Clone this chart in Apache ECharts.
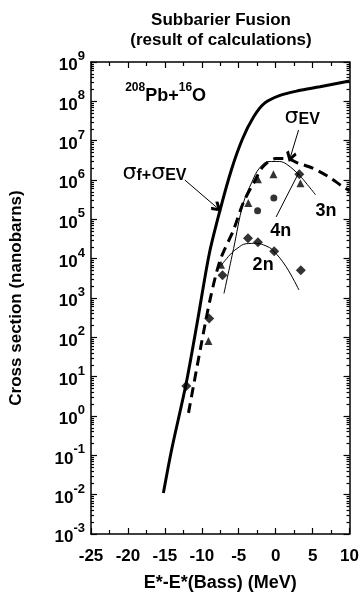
<!DOCTYPE html>
<html>
<head>
<meta charset="utf-8">
<script src="https://cdn.jsdelivr.net/npm/echarts@6/dist/echarts.min.js"></script>
<style>
html, body { margin: 0; padding: 0; background: #fff; }
#main { width: 362px; height: 597px; }
</style>
</head>
<body>
<div id="main"></div>
<script>
// curves (x = E*-E*(Bass) in MeV, y = cross section in nb)
var fusionX = [-15.2, -14.1, -12.1, -10.5, -9.0, -7.5, -6.0, -4.5, -3.0, -1.5, 0.5, 3.0, 6.0, 10.0];
var fusionY = [0.011, 0.135, 7, 320, 1.3e4, 1.8e5, 1.8e6, 1.1e7, 4e7, 9e7, 1.4e8, 1.85e8, 2.35e8, 3.3e8];

var evX = [-11.8, -10.2, -8.8, -7.5, -5.7, -4.4, -3.0, -1.7, 0.0, 1.5, 3.0, 5.0, 7.0, 9.0, 10.0];
var evY = [1.2, 50, 1.07e3, 9.3e3, 5.4e4, 2.6e5, 8.3e5, 2.2e6, 3.5e6, 3.5e6, 2.7e6, 2e6, 1.26e6, 7e5, 5.3e5];

var n3X = [-7.0, -5.7, -4.4, -3.2, -2.2, -0.9, 0.5, 1.5, 3.15, 4.3, 5.4];
var n3Y = [1.3e3, 1.8e4, 2.5e5, 9e5, 2e6, 2.95e6, 2.95e6, 2.5e6, 1.35e6, 7.6e5, 4.2e5];

var n2X = [-7.5, -6.2, -5.25, -4.0, -2.6, -1.3, -0.4, 1.4, 3.15];
var n2Y = [6.3e3, 1.25e4, 1.8e4, 2.4e4, 2.45e4, 2.1e4, 1.65e4, 6.3e3, 1.6e3];

// measured points
var diamondX = [-12.1, -9.0, -7.2, -3.75, -2.4, -0.2, 3.4, 3.2];
var diamondY = [5.8, 300, 3.8e3, 3.3e4, 2.6e4, 1.55e4, 5.1e3, 1.4e6];
var triangleX = [-9.1, -7.4, -3.7, -2.4, -0.3, 3.35];
var triangleY = [81, 7e3, 2.6e5, 1.05e6, 1.4e6, 8.3e5];
var circleX = [-2.45, -0.25];
var circleY = [1.65e5, 3.5e5];

var FONT = '"Liberation Sans", Arial, sans-serif';

function zip(xs, ys) {
    return xs.map(function (x, i) { return [x, ys[i]]; });
}

var minorLog = [];
for (var k = -3; k < 9; k++) {
    for (var m = 2; m <= 9; m++) minorLog.push(m * Math.pow(10, k));
}

var chart = echarts.init(document.getElementById('main'), null, { renderer: 'canvas' });

function logAxis(pos, major, withLabel) {
    var ax = {
        type: 'log', logBase: 10, min: 1e-3, max: 1e9, interval: 1,
        position: pos,
        axisLine: { show: major, onZero: false, lineStyle: { color: '#000', width: 1.5 } },
        axisTick: { show: true, inside: true, length: major ? 6 : 3, lineStyle: { color: '#000', width: 1.2 } },
        splitLine: { show: false },
        axisLabel: { show: false }
    };
    if (!major) ax.axisTick.customValues = minorLog;
    if (withLabel) {
        ax.axisLabel = {
            show: true, margin: 6,
            formatter: function (v) {
                var e = Math.round(Math.log10(v));
                return '{b|10}{s|' + e + '}';
            },
            rich: {
                b: { fontFamily: FONT, fontSize: 17, fontWeight: 'bold', color: '#000', lineHeight: 24, verticalAlign: 'bottom' },
                s: { fontFamily: FONT, fontSize: 13, fontWeight: 'bold', color: '#000', lineHeight: 13, verticalAlign: 'top' }
            }
        };
        ax.name = 'Cross section (nanobarns)';
        ax.nameLocation = 'middle';
        ax.nameGap = 66;
        ax.nameTextStyle = { fontFamily: FONT, fontSize: 17, fontWeight: 'bold', color: '#000' };
    }
    return ax;
}

function xAxisCfg(pos, withLabel) {
    var ax = {
        type: 'value', min: -25, max: 10, interval: 5, position: pos,
        axisLine: { show: true, onZero: false, lineStyle: { color: '#000', width: 1.5 } },
        axisTick: { show: true, inside: true, length: 6, lineStyle: { color: '#000', width: 1.2 } },
        minorTick: { show: true, splitNumber: 2, length: 4, lineStyle: { color: '#000', width: 1.2 } },
        splitLine: { show: false },
        axisLabel: { show: false }
    };
    if (withLabel) {
        ax.axisLabel = { show: true, margin: 14, fontFamily: FONT, fontSize: 17, fontWeight: 'bold', color: '#000' };
        ax.name = 'E*-E*(Bass) (MeV)';
        ax.nameLocation = 'middle';
        ax.nameGap = 40;
        ax.nameTextStyle = { fontFamily: FONT, fontSize: 18, fontWeight: 'bold', color: '#000' };
    }
    return ax;
}

var chevron = 'path://M5,0L10,8L8,10L5,5L2,10L0,8Z';

var option = {
    animation: false,
    backgroundColor: '#fff',
    title: {
        text: 'Subbarier Fusion\n(result of calculations)',
        left: 216, top: 5, textAlign: 'center',
        textStyle: { fontFamily: FONT, fontSize: 17, fontWeight: 'bold', color: '#000', lineHeight: 20 }
    },
    grid: { left: 90, right: 7, top: 62, bottom: 63 },
    xAxis: [xAxisCfg('bottom', true), xAxisCfg('top', false)],
    yAxis: [logAxis('left', true, true), logAxis('left', false, false), logAxis('right', true, false), logAxis('right', false, false)],
    series: [
        {
            name: 'fusion', type: 'line', data: zip(fusionX, fusionY), smooth: 0.3,
            showSymbol: false, lineStyle: { color: '#000', width: 3 },
            markLine: {
                silent: true, animation: false,
                label: { show: false },
                lineStyle: { color: '#000', width: 1, type: 'solid' },
                data: [
                    [{ coord: [-12.3, 1e6], symbol: 'none' }, { coord: [-7.9, 1.95e5], symbol: chevron, symbolSize: 11 }],
                    [{ coord: [3.1, 1.86e7], symbol: 'none' }, { coord: [2.0, 3.9e6], symbol: chevron, symbolSize: 11 }],
                    [{ coord: [0.06, 1.15e5], symbol: 'none' }, { coord: [3.1, 1.5e6], symbol: 'none' }]
                ]
            }
        },
        {
            name: 'ev', type: 'line', data: zip(evX, evY), smooth: 0.3,
            showSymbol: false, lineStyle: { color: '#000', width: 3, type: [10, 6] }
        },
        {
            name: '3n', type: 'line', data: zip(n3X, n3Y), smooth: 0.4,
            showSymbol: false, lineStyle: { color: '#000', width: 1 }
        },
        {
            name: '2n', type: 'line', data: zip(n2X, n2Y), smooth: 0.4,
            showSymbol: false, lineStyle: { color: '#000', width: 1 }
        },
        {
            name: 'diamonds', type: 'scatter', data: zip(diamondX, diamondY),
            symbol: 'diamond', symbolSize: 10, itemStyle: { color: '#000' }
        },
        {
            name: 'triangles', type: 'scatter', data: zip(triangleX, triangleY),
            symbol: 'triangle', symbolSize: 8, itemStyle: { color: '#000' }
        },
        {
            name: 'circles', type: 'scatter', data: zip(circleX, circleY),
            symbol: 'circle', symbolSize: 7, itemStyle: { color: '#000' }
        }
    ]
};
chart.setOption(option);

// text annotations, placed in data coordinates
var notes = [
    { text: '{sp|208}{t|Pb+}{sp|16}{t|O}', x: -14.9, y: 1.6e8 },
    { text: '{g|σ}{sb|f+}{g|σ}{sb|EV}', x: -16.4, y: 1.5e6 },
    { text: '{g|σ}{sb|EV}', x: 3.6, y: 4e7 },
    { text: '{t|3n}', x: 6.8, y: 1.95e5 },
    { text: '{t|4n}', x: 0.7, y: 6e4 },
    { text: '{t|2n}', x: -1.7, y: 8e3 }
];
var rich = {
    t: { fontFamily: FONT, fontSize: 18, fontWeight: 'bold', fill: '#000', lineHeight: 24, verticalAlign: 'bottom' },
    sp: { fontFamily: FONT, fontSize: 12, fontWeight: 'bold', fill: '#000', lineHeight: 12, verticalAlign: 'top' },
    g: { fontFamily: '"DejaVu Sans", sans-serif', fontSize: 22, fill: '#000', lineHeight: 22, verticalAlign: 'top' },
    sb: { fontFamily: FONT, fontSize: 16, fontWeight: 'bold', fill: '#000', lineHeight: 14, verticalAlign: 'bottom' }
};
var graphics = notes.map(function (n) {
    var p = chart.convertToPixel({ gridIndex: 0 }, [n.x, n.y]);
    return {
        type: 'text', x: p[0], y: p[1], silent: true,
        style: { text: n.text, rich: rich, align: 'center', verticalAlign: 'middle', fill: '#000' }
    };
});
chart.setOption({ graphic: graphics });
</script>
</body>
</html>
